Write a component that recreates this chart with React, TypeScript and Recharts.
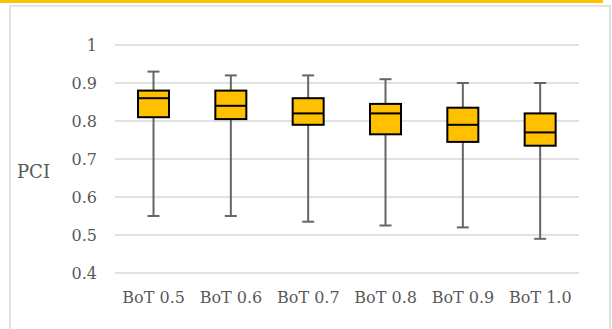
import { ComposedChart, Bar, XAxis, YAxis, CartesianGrid } from 'recharts'

const categories = ['BoT 0.5', 'BoT 0.6', 'BoT 0.7', 'BoT 0.8', 'BoT 0.9', 'BoT 1.0']
const mins = [0.55, 0.55, 0.535, 0.525, 0.52, 0.49]
const q1s = [0.81, 0.805, 0.79, 0.765, 0.745, 0.735]
const medians = [0.86, 0.84, 0.82, 0.82, 0.79, 0.77]
const q3s = [0.88, 0.88, 0.86, 0.845, 0.835, 0.82]
const maxs = [0.93, 0.92, 0.92, 0.91, 0.9, 0.9]
const yTicks = [0.4, 0.5, 0.6, 0.7, 0.8, 0.9, 1]

const data = categories.map((name, i) => ({
  name,
  range: [mins[i], maxs[i]],
  min: mins[i],
  q1: q1s[i],
  median: medians[i],
  q3: q3s[i],
  max: maxs[i],
}))

const FONT = '"DejaVu Serif", serif'
const TEXT = '#595959'

function BoxShape(props: any) {
  const { x, y, width, height, payload } = props
  const top = Math.min(y, y + height)
  const h = Math.abs(height)
  const { min, q1, median, q3, max } = payload
  const py = (v: number) => top + ((max - v) / (max - min)) * h
  const cx = x + width / 2
  const cap = 6
  return (
    <g>
      <line x1={cx} x2={cx} y1={py(max)} y2={py(q3)} stroke="#666" strokeWidth={2} />
      <line x1={cx} x2={cx} y1={py(q1)} y2={py(min)} stroke="#666" strokeWidth={2} />
      <line x1={cx - cap} x2={cx + cap} y1={py(max)} y2={py(max)} stroke="#666" strokeWidth={2} />
      <line x1={cx - cap} x2={cx + cap} y1={py(min)} y2={py(min)} stroke="#666" strokeWidth={2} />
      <rect
        x={x}
        y={py(q3)}
        width={width}
        height={py(q1) - py(q3)}
        fill="#FFC000"
        stroke="#000"
        strokeWidth={2}
      />
      <line x1={x} x2={x + width} y1={py(median)} y2={py(median)} stroke="#000" strokeWidth={2} />
    </g>
  )
}

export default function App() {
  return (
    <div
      style={{
        position: 'absolute',
        left: 0,
        top: 0,
        width: 612,
        height: 329,
        background: '#fff',
        overflow: 'hidden',
      }}
    >
      <div style={{ position: 'absolute', left: 0, top: 0, width: 603, height: 3, background: '#FFC000' }} />
      <div
        style={{
          position: 'absolute',
          left: 9,
          top: 5,
          width: 598,
          height: 340,
          border: '2px solid #e2e2e2',
        }}
      />
      <div style={{ position: 'absolute', left: 0, top: 0 }}>
        <ComposedChart
          width={612}
          height={329}
          data={data}
          margin={{ top: 45, right: 33, left: 55, bottom: 26 }}
        >
          <CartesianGrid vertical={false} stroke="#d9d9d9" strokeWidth={1.5} />
          <XAxis
            dataKey="name"
            axisLine={false}
            tickLine={false}
            height={30}
            tickMargin={13}
            tick={{ fill: TEXT, fontSize: 16, fontFamily: FONT }}
          />
          <YAxis
            domain={[0.4, 1]}
            ticks={yTicks}
            width={60}
            axisLine={false}
            tickLine={false}
            tickMargin={12}
            tickFormatter={(v: number) => String(v)}
            tick={{ fill: TEXT, fontSize: 16, fontFamily: FONT }}
            label={{
              value: 'PCI',
              position: 'left',
              offset: 5,
              dy: 13,
              fill: TEXT,
              fontSize: 18,
              fontFamily: FONT,
            }}
          />
          <Bar dataKey="range" barSize={31} shape={BoxShape} isAnimationActive={false} />
        </ComposedChart>
      </div>
    </div>
  )
}
